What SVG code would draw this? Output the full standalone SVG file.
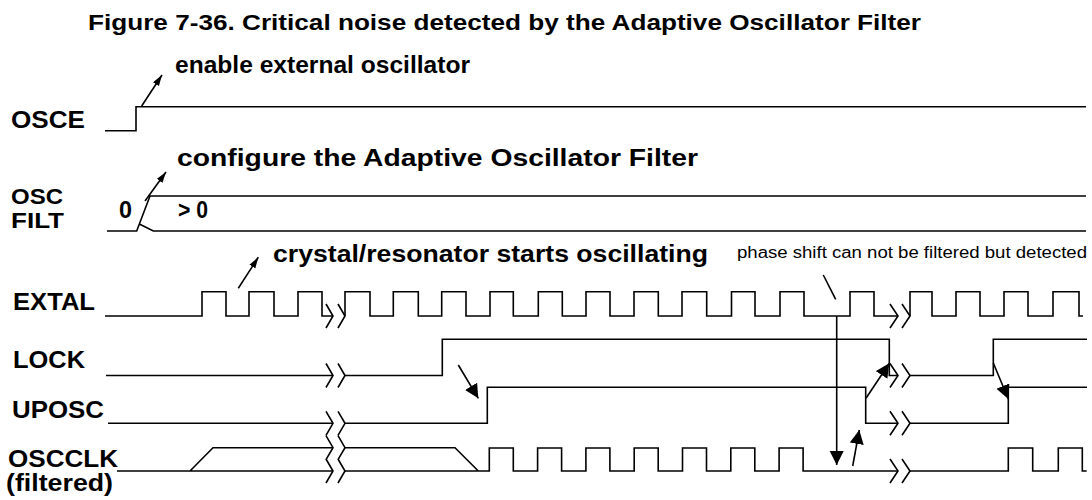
<svg xmlns="http://www.w3.org/2000/svg" width="1092" height="500" viewBox="0 0 1092 500">
<defs>
<style>
.t{font-family:"Liberation Sans",Arial,sans-serif;font-weight:bold;fill:#000}
.n{font-family:"Liberation Sans",Arial,sans-serif;font-weight:normal;fill:#000}
.s{fill:none;stroke:#000;stroke-width:1.6;stroke-linejoin:miter}
.a{fill:none;stroke:#000;stroke-width:1.6}
</style>
<marker id="big" markerUnits="userSpaceOnUse" markerWidth="15" markerHeight="15" refX="14" refY="7" orient="auto"><path d="M0,0 L14,7 L0,14 z" fill="#000"/></marker>
<marker id="sm" markerUnits="userSpaceOnUse" markerWidth="12" markerHeight="8" refX="11" refY="3.5" orient="auto"><path d="M0,0 L11,3.5 L0,7 z" fill="#000"/></marker>
</defs>
<rect width="1092" height="500" fill="#fff"/>
<text class="t" x="88" y="30" font-size="22" textLength="833" lengthAdjust="spacingAndGlyphs">Figure 7-36. Critical noise detected by the Adaptive Oscillator Filter</text>
<g id="annotations">
<text class="t" x="175" y="73" font-size="23" textLength="295" lengthAdjust="spacingAndGlyphs">enable external oscillator</text>
<text class="t" x="177" y="166" font-size="23" textLength="521" lengthAdjust="spacingAndGlyphs">configure the Adaptive Oscillator Filter</text>
<text class="t" x="273" y="262" font-size="23" textLength="435" lengthAdjust="spacingAndGlyphs">crystal/resonator starts oscillating</text>
<text class="n" x="737" y="258" font-size="16" textLength="350" lengthAdjust="spacingAndGlyphs">phase shift can not be filtered but detected</text>
</g>
<g id="OSCE">
<text class="t" x="11" y="128" font-size="23" textLength="74" lengthAdjust="spacingAndGlyphs">OSCE</text>
<path class="s" d="M105 130.7 H136 V106.7 H1086"/>
</g>
<g id="OSCFILT">
<text class="t" x="11" y="204" font-size="22" textLength="52" lengthAdjust="spacingAndGlyphs">OSC</text>
<text class="t" x="11" y="228" font-size="22" textLength="53" lengthAdjust="spacingAndGlyphs">FILT</text>
<text class="t" x="119" y="218" font-size="23" textLength="13" lengthAdjust="spacingAndGlyphs">0</text>
<text class="t" x="178" y="218" font-size="23" textLength="30" lengthAdjust="spacingAndGlyphs">&gt; 0</text>
<path class="s" d="M107 231 H136.7 L150 196 H1086 M139.3 224 L153.3 231 H1086"/>
</g>
<g id="EXTAL">
<text class="t" x="13" y="310" font-size="23" textLength="82" lengthAdjust="spacingAndGlyphs">EXTAL</text>
<path class="s" d="M105 316 H202 V291.7 H226 V316 H249 V291.7 H274 V316 H298 V291.7 H322 V316 H333"/>
<path class="s" d="M345 316 V291.7 H370 V316 H393.3 V291.7 H418.3 V316 H441.7 V291.7 H466 V316 H490 V291.7 H513.3 V316 H538.3 V291.7 H562.3 V316 H586 V291.7 H610 V316 H634 V291.7 H658.3 V316 H682 V291.7 H706.7 V316 H731.5 V291.7 H755 V316 H780 V291.7 H804 V316 H850 V291.7 H874 V316 H898"/>
<path class="s" d="M910 316 V291.7 H932 V316 H956 V291.7 H980 V316 H1004 V291.7 H1028 V316 H1053 V291.7 H1079 V316 H1083"/>
</g>
<g id="LOCK">
<text class="t" x="13" y="368" font-size="23" textLength="72" lengthAdjust="spacingAndGlyphs">LOCK</text>
<path class="s" d="M106 375.5 H333 M345 375.5 H442.3 V339.3 H889.3 V375.5 H898 M910 375.5 H993.3 V339.3 H1087"/>
</g>
<g id="UPOSC">
<text class="t" x="12" y="417.7" font-size="23" textLength="92" lengthAdjust="spacingAndGlyphs">UPOSC</text>
<path class="s" d="M108 423.3 H333 M345 423.3 H487.3 V387.3 H865.7 V423.3 H898 M910 423.3 H1008.3 V387.3 H1087"/>
</g>
<g id="OSCCLK">
<text class="t" x="8" y="467" font-size="23" textLength="110" lengthAdjust="spacingAndGlyphs">OSCCLK</text>
<text class="t" x="6" y="491" font-size="23" textLength="107" lengthAdjust="spacingAndGlyphs">(filtered)</text>
<path class="s" d="M117 471 H333 M190 471 L213 447.7 H333"/>
<path class="s" d="M345 447.7 H455 L478.3 471 M345 471 H489.3 V448 H513.3 V471 H537.6 V448 H561.6 V471 H585.9 V448 H609.9 V471 H634.2 V448 H658.2 V471 H682.5 V448 H706.5 V471 H730.8 V448 H754.8 V471 H779.1 V448 H803.1 V471 H898"/>
<path class="s" d="M910 471 H1008.3 V448 H1032.7 V471 H1058.3 V448 H1082.3 V471 H1086.7"/>
</g>
<g id="breaks">
<path class="s" d="M326 304 L333 316 L326 328 M338 304 L345 316 L338 328 M326 363.5 L333 375.5 L326 387.5 M338 363.5 L345 375.5 L338 387.5 M326 411.3 L333 423.3 L326 435.3 M338 411.3 L345 423.3 L338 435.3 M326 435.7 L333 447.7 L326 459.7 M338 435.7 L345 447.7 L338 459.7 M326 459 L333 471 L326 483 M338 459 L345 471 L338 483"/>
<path class="s" d="M890 304 L898 316 L890 328 M902 304 L910 316 L902 328 M890 363.5 L898 375.5 L890 387.5 M902 363.5 L910 375.5 L902 387.5 M890 411.3 L898 423.3 L890 435.3 M902 411.3 L910 423.3 L902 435.3 M890 459 L898 471 L890 483 M902 459 L910 471 L902 483"/>
</g>
<g id="connectors">
<path class="a" d="M141.7 106 L162 75" marker-end="url(#sm)"/>
<path class="a" d="M145 201 L166 172" marker-end="url(#sm)"/>
<path class="a" d="M238.3 288.3 L258.3 257.3" marker-end="url(#sm)"/>
<path class="a" d="M458.3 365 L478.3 398.3" marker-end="url(#big)"/>
<path class="a" d="M823.3 275 L835.7 299.3"/>
<path class="a" d="M836.7 316 V465" marker-end="url(#big)"/>
<path class="a" d="M852.7 466 L859.3 430" marker-end="url(#big)"/>
<path class="a" d="M866 398.3 L889.3 363.3" marker-end="url(#big)"/>
<path class="a" d="M993.3 363 L1008.3 399" marker-end="url(#big)"/>
</g>
</svg>
